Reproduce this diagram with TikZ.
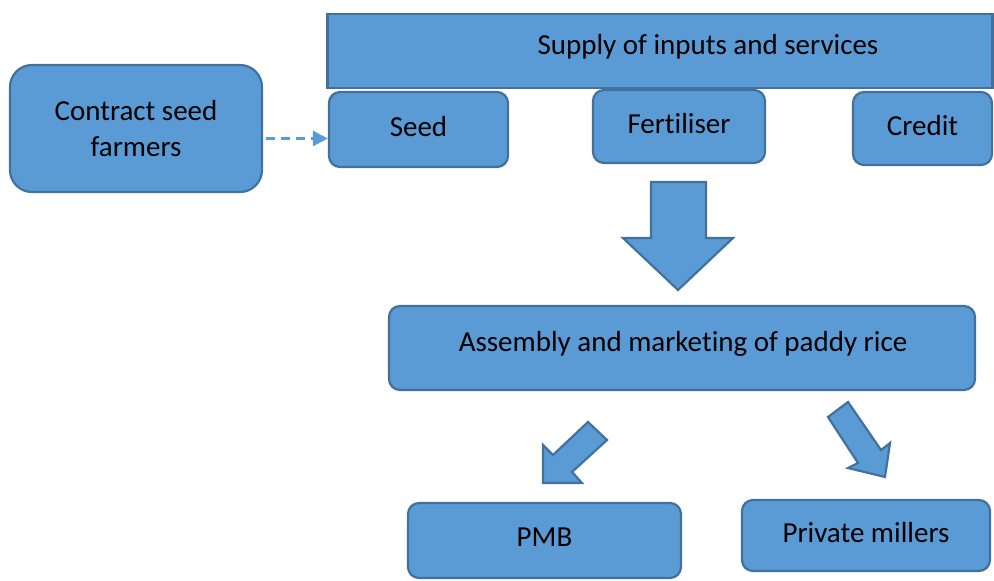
\documentclass[tikz,border=0pt]{standalone}
\usepackage{fontspec}
\setmainfont{Carlito}[RawFeature={-liga,-clig,-calt,-dlig}]
\usetikzlibrary{arrows.meta}
\definecolor{boxfill}{HTML}{5B9BD5}
\definecolor{boxline}{HTML}{41719C}
\tikzset{
  box/.style={draw=boxline, fill=boxfill, line width=2.2pt, rounded corners=11pt,
    inner sep=0pt, font=\fontsize{29}{36}\selectfont, text=black,
    text height=20pt, text depth=7pt},
  sqbox/.style={box, rounded corners=0pt},
  bigbox/.style={box, rounded corners=22pt, align=center, text height=, text depth=},
  label text/.style={font=\fontsize{29}{36}\selectfont, text=black, inner sep=0pt},
  blockarrow/.style={draw=boxline, fill=boxfill, line width=2.2pt, line join=miter},
  linkarrow/.style={draw=boxfill, line width=2.6pt, dash pattern=on 9pt off 6pt,
    -{Triangle[length=15pt,width=15pt]}}
}
\begin{document}
\begin{tikzpicture}[x=1pt,y=-1pt]
\useasboundingbox (0,0) rectangle (994,581);

% supply header and its three inputs
\node[sqbox, minimum width=665, minimum height=74] (supply) at (660,51) {};
\node[label text] (supplytext) at (708,47) {Supply of inputs and services};
\node[box, minimum width=179, minimum height=75] (seed) at (418.5,129.5) {Seed};
\node[box, minimum width=172, minimum height=73] (fert) at (679,126.5) {Fertiliser};
\node[box, minimum width=139, minimum height=73] (credit) at (922.5,128.5) {Credit};

% seed growers
\node[bigbox, minimum width=252, minimum height=127] (farmers) at (136,128.5)
  {Contract seed\\farmers};

% marketing and buyers
\node[box, minimum width=586, minimum height=84] (assembly) at (682,348) {};
\node[label text] (assemblytext) at (683,344) {Assembly and marketing of paddy rice};
\node[box, minimum width=273, minimum height=75, text depth=9pt] (pmb) at (544.5,540.5) {PMB};
\node[box, minimum width=248, minimum height=71] (millers) at (866,535.5) {Private millers};

% dashed link from farmers to seed
\draw[linkarrow] (farmers.east) ++(3,10) coordinate (linkstart) -- (linkstart -| seed.west);

% block arrow from inputs to marketing
\draw[blockarrow] (651,182) -- (706,182) -- (706,238) -- (733,238) -- (678,290)
  -- (623,238) -- (651,238) -- cycle;

% block arrow towards PMB
\draw[blockarrow] (588,422) -- (607,440) -- (572,472) -- (582,483) -- (543,483)
  -- (543,445) -- (553,455) -- cycle;

% block arrow towards private millers
\draw[blockarrow] (828,417) -- (848,402) -- (881,450) -- (890,443) -- (885,477)
  -- (848,468) -- (858,463) -- cycle;
\end{tikzpicture}
\end{document}
